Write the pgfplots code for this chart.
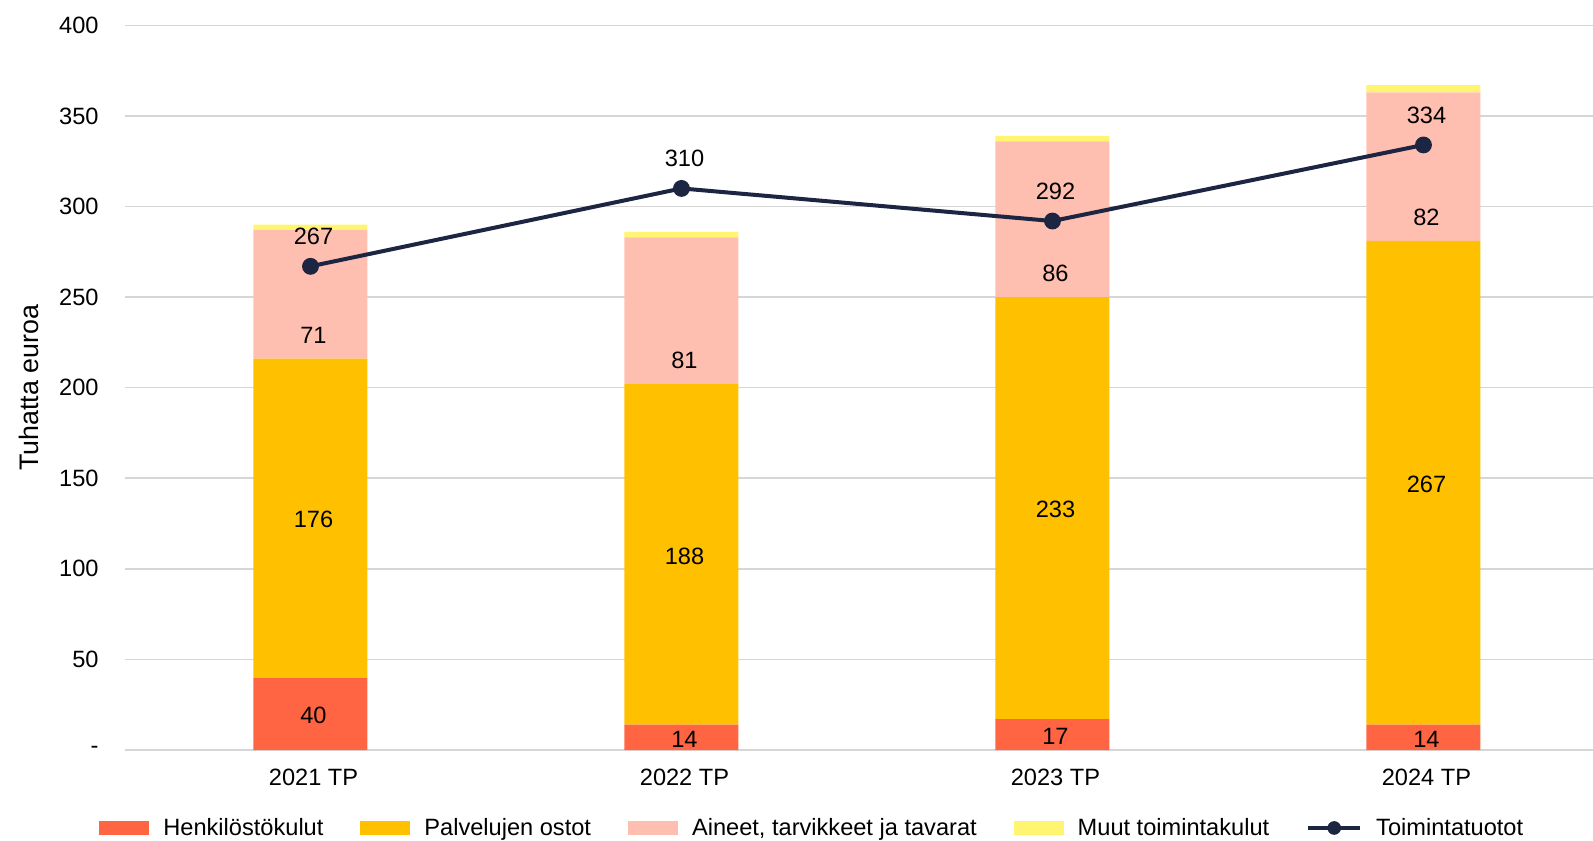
\documentclass[border=0pt]{standalone}
\usepackage{fontspec}
\setmainfont{Liberation Sans}
\usepackage{pgfplots}
\pgfplotsset{compat=1.18}

\definecolor{henk}{RGB}{255,101,66}
\definecolor{palv}{RGB}{255,192,0}
\definecolor{aine}{RGB}{255,191,176}
\definecolor{muut}{RGB}{255,245,112}
\definecolor{tuot}{RGB}{28,37,65}
\newcommand\cf{\fontsize{11.8}{14}\selectfont}

\pgfplotsset{
  boxlegend/.style={legend image code/.code={\fill[##1] (0pt,-3.5pt) rectangle (25pt,3.5pt);}},
  linelegend/.style={legend image code/.code={\draw[tuot, line width=2pt] (0pt,0pt) -- (26pt,0pt); \fill[tuot] (13pt,0pt) circle (3.2pt);}},
  frame/.style={scale only axis, width=734pt, height=362.3pt,
    anchor=south west, at={(0,0)},
    xmin=-0.5, xmax=3.457, ymin=0, ymax=400},
}
\tikzset{lab/.style={font=\cf, xshift=1.5pt, yshift=-0.8pt}}

\begin{document}
\begin{tikzpicture}
\useasboundingbox (-62.5pt,-45pt) rectangle (734pt,375pt);
\begin{axis}[
  frame,
  ybar stacked, bar width=57pt,
  xtick={0,1,2,3}, xticklabels={2021 TP,2022 TP,2023 TP,2024 TP},
  ytick={0,50,...,400}, yticklabels={-,50,100,150,200,250,300,350,400},
  axis line style={draw=none}, major tick length=0pt,
  ymajorgrids, grid style={draw=black!16, line width=0.8pt},
  xticklabel style={font=\cf, anchor=center, yshift=-13.5pt, xshift=1.5pt, inner sep=0pt},
  yticklabel style={font=\cf, anchor=east, xshift=-13pt, inner sep=0pt},
  ylabel={Tuhatta euroa},
  ylabel style={font=\fontsize{13.4}{16}\selectfont, at={(axis description cs:-0.0657,0.5)}, anchor=center},
  legend columns=-1,
  legend style={at={(axis description cs:-0.0177,-0.1076)}, anchor=west,
    draw=none, inner sep=0pt, font=\cf,
    /tikz/every odd column/.append style={column sep=5pt},
    /tikz/every even column/.append style={column sep=16.5pt}},
  boxlegend,
]
\addplot[fill=henk, draw=none] coordinates {(0,40) (1,14) (2,17) (3,14)};
\addplot[fill=palv, draw=none] coordinates {(0,176) (1,188) (2,233) (3,267)};
\addplot[fill=aine, draw=none] coordinates {(0,71) (1,81) (2,86) (3,82)};
\addplot[fill=muut, draw=none] coordinates {(0,3) (1,3) (2,3) (3,4)};
\addlegendimage{linelegend}
\legend{Henkilöstökulut, Palvelujen ostot, {Aineet, tarvikkeet ja tavarat}, Muut toimintakulut, Toimintatuotot}
\end{axis}

\begin{axis}[frame, hide axis, /pgf/number format/assume math mode=true]
\addplot[tuot, line width=2pt, mark=*, mark size=3.2pt, mark options={fill=tuot},
  nodes near coords,
  every node near coord/.append style={anchor=center, yshift=15pt, xshift=1.5pt, font=\cf, text=black}]
  coordinates {(0,267) (1,310) (2,292) (3,334)};

% segment labels
\node[lab] at (axis cs:0,20) {40};
\node[lab] at (axis cs:1,7) {14};
\node[lab] at (axis cs:2,8.5) {17};
\node[lab] at (axis cs:3,7) {14};
\node[lab] at (axis cs:0,128) {176};
\node[lab] at (axis cs:1,108) {188};
\node[lab] at (axis cs:2,133.5) {233};
\node[lab] at (axis cs:3,147.5) {267};
\node[lab] at (axis cs:0,230) {71};
\node[lab] at (axis cs:1,216) {81};
\node[lab] at (axis cs:2,264) {86};
\node[lab] at (axis cs:3,295) {82};
\end{axis}
\end{tikzpicture}
\end{document}
